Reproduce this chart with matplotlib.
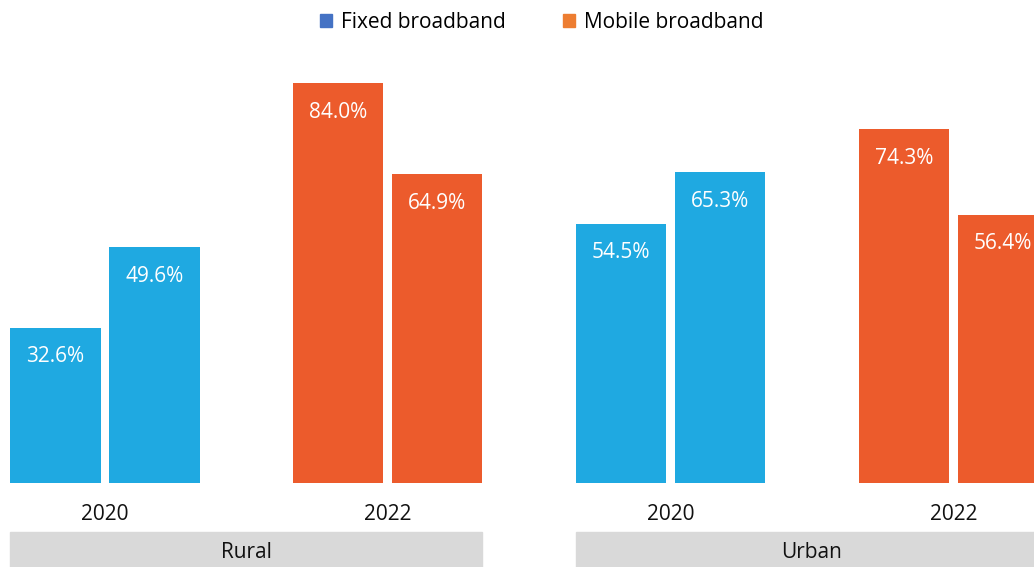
import matplotlib
matplotlib.use('Agg')
import matplotlib.pyplot as plt
from matplotlib.patches import Patch, Rectangle
import numpy as np

plt.rcParams['font.family'] = ['Open Sans', 'DejaVu Sans']

areas = ['Rural', 'Urban']
years = ['2020', '2022']
rural = [[32.6, 49.6], [84.0, 64.9]]
urban = [[54.5, 65.3], [74.3, 56.4]]
year_colors = ['#1FA9E1', '#EC5B2C']
legend_labels = ['Fixed broadband', 'Mobile broadband']
legend_colors = ['#4472C4', '#ED7D31']

fig = plt.figure(figsize=(10.34, 5.67), dpi=100)
ax = fig.add_axes([0, 0, 1, 1])
ax.set_xlim(-1.06, 9.38)
ax.set_ylim(-17.65, 101.47)
ax.axis('off')

step = 2.855
width = 0.91
fs = 15
for gi, (area, vals) in enumerate(zip(areas, [rural, urban])):
    for yi, pair in enumerate(vals):
        c = (gi * 2 + yi) * step
        xs = np.array([c - 0.5, c + 0.5])
        bars = ax.bar(xs, pair, width=width, color=year_colors[yi])
        for b, v in zip(bars, pair):
            ax.annotate(f'{v:.1f}%', (b.get_x() + b.get_width() / 2, v),
                        xytext=(0, -21), textcoords='offset points',
                        ha='center', va='center', color='white', fontsize=fs)
        ax.text(c, -6.7, years[yi], ha='center', va='center', fontsize=fs, color='#111111')
    # grey band with the area name under each group
    left = gi * 2 * step - 0.5 - width / 2
    right = (gi * 2 + 1) * step + 0.5 + width / 2
    ax.add_patch(Rectangle((left, -18), right - left, 7.7, color='#D9D9D9', zorder=0))
    ax.text((left + right) / 2, -14.5, area, ha='center', va='center', fontsize=fs, color='#111111')

handles = [Patch(color=c, label=l) for c, l in zip(legend_colors, legend_labels)]
fig.legend(handles=handles, loc='center', bbox_to_anchor=(541.5 / 1034, 1 - 22 / 567),
           ncol=2, frameon=False, fontsize=fs, handlelength=0.6, handleheight=0.6,
           handletextpad=0.4, columnspacing=2.75)

fig.savefig('out.png', dpi=100)
